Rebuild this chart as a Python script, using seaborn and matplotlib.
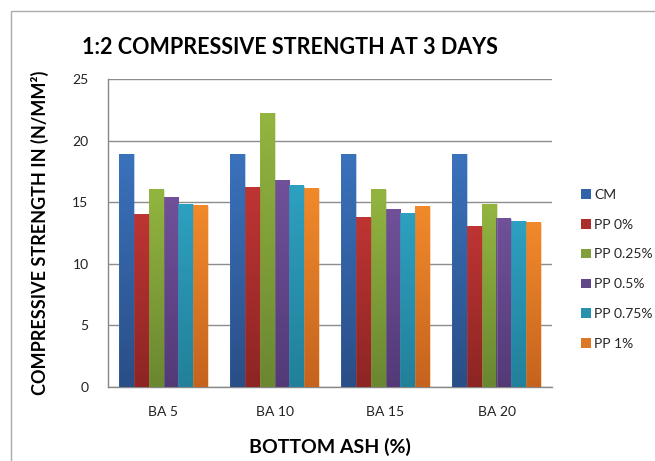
import numpy as np
import pandas as pd
import matplotlib
matplotlib.use("Agg")
import matplotlib.pyplot as plt
from matplotlib.colors import LinearSegmentedColormap
from matplotlib.patches import Rectangle
import seaborn as sns

categories = ["BA 5", "BA 10", "BA 15", "BA 20"]
series = ["CM", "PP 0%", "PP 0.25%", "PP 0.5%", "PP 0.75%", "PP 1%"]
cm = [18.9, 18.9, 18.9, 18.9]
pp_0 = [14.0, 16.2, 13.75, 13.05]
pp_025 = [16.0, 22.2, 16.0, 14.85]
pp_05 = [15.4, 16.8, 14.4, 13.65]
pp_075 = [14.85, 16.35, 14.1, 13.45]
pp_1 = [14.7, 16.1, 14.65, 13.35]
y_ticks = [0, 5, 10, 15, 20, 25]

# top / bottom shades for the gradient fill of each series
top_colors = ["#3A72BC", "#BE3533", "#93B540", "#70519A", "#2EA0C0", "#F28A2B"]
bottom_colors = ["#2A4E86", "#8C2524", "#6A8731", "#533A77", "#22809A", "#C5631E"]
mid_colors = ["#3262A8", "#A92E2C", "#81A03A", "#614689", "#2891AE", "#DC7725"]

values = [cm, pp_0, pp_025, pp_05, pp_075, pp_1]
df = pd.DataFrame({
    "group": categories * len(series),
    "series": [s for s in series for _ in categories],
    "value": [v for vals in values for v in vals],
})

sns.set_theme(style="white")
plt.rcParams["font.family"] = ["Lato", "DejaVu Sans"]

fig = plt.figure(figsize=(6.55, 4.61), dpi=100)
ax = fig.add_axes([108 / 655, 1 - 387 / 461, 444 / 655, 308 / 461])

palette = dict(zip(series, mid_colors))
sns.barplot(data=df, x="group", y="value", hue="series", order=categories,
            hue_order=series, palette=palette, width=0.8, saturation=1,
            edgecolor="none", linewidth=0, ax=ax, zorder=2)

# vertical gradient over each bar
for i, container in enumerate(ax.containers):
    cmap = LinearSegmentedColormap.from_list(f"g{i}", [bottom_colors[i], top_colors[i]])
    grad = np.linspace(0, 1, 256).reshape(-1, 1)
    for bar in container:
        x0, w, h = bar.get_x(), bar.get_width(), bar.get_height()
        ax.imshow(grad, extent=[x0, x0 + w, 0, h], origin="lower", cmap=cmap,
                  aspect="auto", zorder=3, interpolation="bilinear")
        ax.add_patch(Rectangle((x0, 0), w, h, fill=False, edgecolor=top_colors[i],
                               linewidth=0.4, alpha=0.6, zorder=4))
ax.set_xlim(-0.5, len(categories) - 0.5)
ax.set_ylim(0, 25)

ax.set_yticks(y_ticks)
ax.yaxis.grid(True, color="#8C8C8C", linewidth=1.0, zorder=0)
ax.set_axisbelow(True)
for side in ["top", "right"]:
    ax.spines[side].set_visible(False)
for side in ["left", "bottom"]:
    ax.spines[side].set_color("#888888")
    ax.spines[side].set_linewidth(1.0)
ax.tick_params(axis="y", which="major", direction="out", length=5, width=1,
               color="#888888", labelsize=10, labelcolor="#222222", pad=9)
ax.tick_params(axis="x", length=0, labelsize=10, labelcolor="#222222", pad=14)

ax.set_xlabel("BOTTOM ASH (%)", fontsize=14, fontweight="bold", labelpad=14, color="black")
ax.set_ylabel("COMPRESSIVE STRENGTH IN (N/MM²)", fontsize=13, fontweight="bold",
              labelpad=17, color="black")

fig.text(290 / 655, 1 - 47 / 461, "1:2 COMPRESSIVE STRENGTH AT 3 DAYS", fontsize=15.5,
         fontweight="bold", ha="center", va="center", color="black")

handles, labels = ax.get_legend_handles_labels()
ax.legend(handles, labels, loc="upper left", bbox_to_anchor=(574 / 655, 1 - 182 / 461),
          bbox_transform=fig.transFigure, frameon=False, fontsize=10,
          handlelength=0.7, handleheight=0.7, handletextpad=0.25, labelspacing=1.28,
          borderpad=0)

# outer chart frame
fig.patches.append(Rectangle((11 / 655, -0.1), 1.2, 1 - 11 / 461 + 0.1, transform=fig.transFigure,
                             fill=False, edgecolor="#AAAAAA", linewidth=1.0))

fig.savefig("out.png", dpi=100, facecolor="white")
